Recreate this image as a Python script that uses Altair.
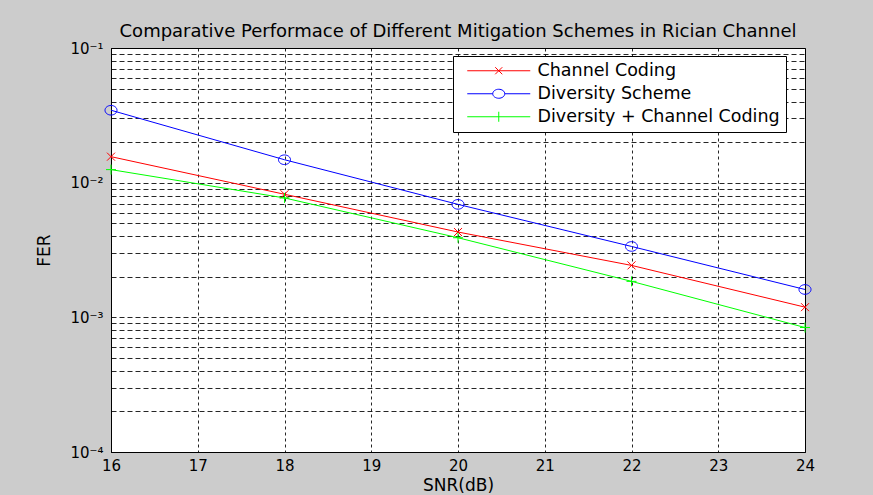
import altair as alt
import pandas as pd

# ---- data ----
snr = [16, 18, 20, 22, 24]
channel_coding = [0.0156, 0.0082, 0.0043, 0.00243, 0.00119]
diversity = [0.0345, 0.0148, 0.0069, 0.00336, 0.00161]
diversity_cc = [0.0125, 0.0077, 0.0039, 0.00185, 0.00084]

series_names = ["Channel Coding", "Diversity Scheme", "Diversity + Channel Coding"]
series_values = [channel_coding, diversity, diversity_cc]
series_colors = ["#ff0000", "#0000ff", "#00ff00"]

x_ticks = [16, 17, 18, 19, 20, 21, 22, 23, 24]
y_decades = [-4, -3, -2]
y_ticks = [k * 10.0 ** e for e in y_decades for k in range(1, 10)] + [0.1]

rows = []
for name, vals in zip(series_names, series_values):
    for x, v in zip(snr, vals):
        rows.append({"SNR": x, "FER": v, "Series": name})
df = pd.DataFrame(rows)

# marker shapes (unit-box SVG paths) and sizes
marker_paths = [
    "M-1,-1L1,1M-1,1L1,-1",
    "M-1,0A1,0.8 0 1,0 1,0A1,0.8 0 1,0 -1,0",
    "M-1,0H1M0,-1V1",
]
marker_sizes = [64, 144, 100]
# legend symbols: a line segment with the series marker in its middle
legend_paths = [
    "M-4.2,0H4.2M-0.47,-0.47L0.47,0.47M-0.47,0.47L0.47,-0.47",
    "M-4.2,0H-0.8M0.8,0H4.2M-0.8,0A0.8,0.6 0 1,0 0.8,0A0.8,0.6 0 1,0 -0.8,0",
    "M-4.2,0H4.2M0,-0.67V0.67",
]
symbol_expr = (
    f"datum.value == '{series_names[0]}' ? '{legend_paths[0]}' : "
    f"datum.value == '{series_names[1]}' ? '{legend_paths[1]}' : '{legend_paths[2]}'"
)

FONT = "DejaVu Sans"

color_scale = alt.Scale(domain=series_names, range=series_colors)
x_enc = alt.X(
    "SNR:Q",
    scale=alt.Scale(domain=[16, 24], nice=False, zero=False),
    axis=alt.Axis(
        values=x_ticks,
        title="SNR(dB)",
        grid=True,
        gridDash=[3, 3],
        ticks=False,
        labelPadding=6,
        titlePadding=4,
        labelFlush=False,
        format="d",
    ),
)
y_enc = alt.Y(
    "FER:Q",
    scale=alt.Scale(type="log", domain=[1e-4, 1e-1], nice=False),
    axis=alt.Axis(
        values=y_ticks,
        title="FER",
        grid=True,
        gridDash=[5, 3],
        ticks=False,
        labelPadding=8,
        titlePadding=16,
        labelOverlap=False,
        labelFlush=False,
        labelExpr=(
            "abs(log(datum.value)/LN10 - round(log(datum.value)/LN10)) < 0.001 ? "
            "'10⁻' + ['', '¹', '²', '³', '⁴'][-round(log(datum.value)/LN10)] : ''"
        ),
    ),
)

base = alt.Chart(df)

lines = base.mark_line(strokeWidth=1).encode(
    x=x_enc,
    y=y_enc,
    color=alt.Color(
        "Series:N",
        scale=color_scale,
        sort=series_names,
        legend=alt.Legend(
            title=None,
            orient="none",
            legendX=342,
            legendY=8,
            fillColor="white",
            strokeColor="black",
            padding=6,
            symbolType=alt.ExprRef(expr=symbol_expr),
            symbolSize=225,
            symbolOffset=31,
            symbolStrokeWidth=1,
            symbolFillColor="transparent",
            labelFont=FONT,
            labelFontSize=17.5,
            labelColor="black",
            labelOffset=30,
            labelLimit=400,
            rowPadding=4,
        ),
    ),
)

point_layers = []
for name, color, path, size in zip(series_names, series_colors, marker_paths, marker_sizes):
    point_layers.append(
        base.transform_filter(alt.datum.Series == name)
        .mark_point(shape=path, size=size, filled=False, stroke=color, strokeWidth=1, opacity=1)
        .encode(x="SNR:Q", y="FER:Q")
    )

chart = (
    alt.layer(lines, *point_layers)
    .properties(
        width=694,
        height=404,
        title=alt.TitleParams(
            "Comparative Performace of Different Mitigation Schemes in Rician Channel",
            font=FONT,
            fontSize=18,
            fontWeight="normal",
            color="black",
            anchor="middle",
            offset=0,
        ),
        autosize=alt.AutoSizeParams(type="none"),
        padding={"left": 111, "top": 48, "right": 68, "bottom": 43},
    )
    .configure(background="#cccccc")
    .configure_view(stroke="black", strokeWidth=1, fill="white")
    .configure_axis(
        labelFont=FONT,
        labelFontSize=15,
        labelColor="black",
        titleFont=FONT,
        titleFontSize=17,
        titleFontWeight="normal",
        titleColor="black",
        gridColor="black",
        gridOpacity=0.85,
        gridWidth=1,
        domainColor="black",
    )
)

chart.save("out.html", embed_options={"renderer": "svg", "actions": False})
